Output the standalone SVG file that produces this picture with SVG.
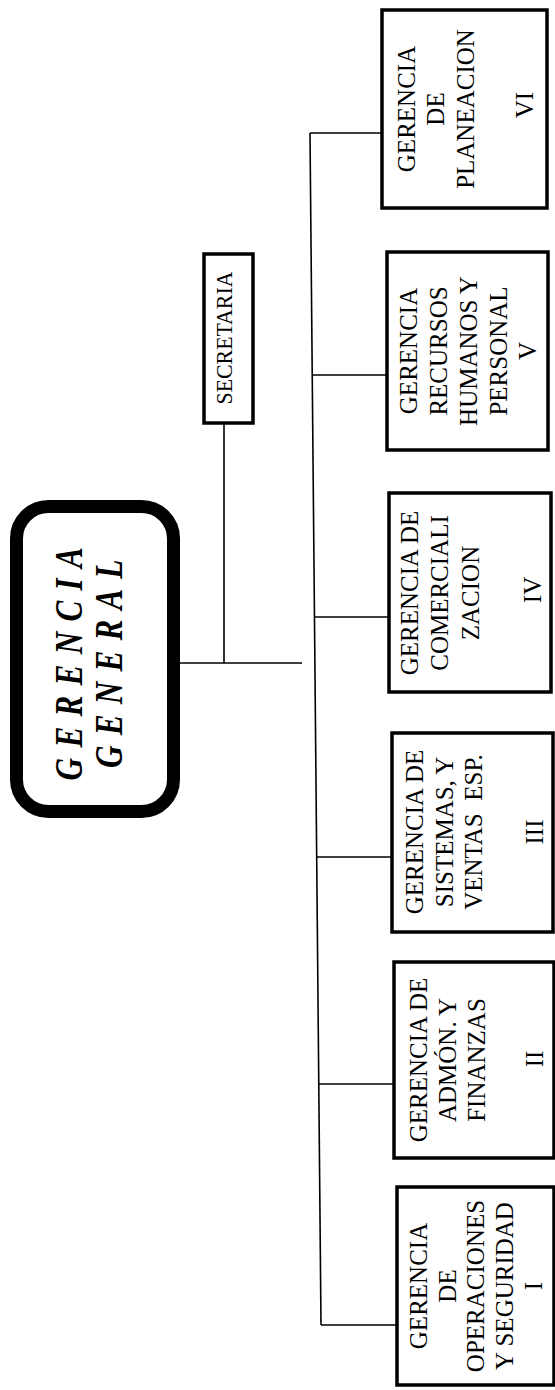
<svg xmlns="http://www.w3.org/2000/svg" width="555" height="1390" viewBox="0 0 555 1390">
<style>
.box{fill:#fff;stroke:#000;stroke-width:3.5}
.gg{fill:#fff;stroke:#000;stroke-width:13}
.ln{stroke:#000;stroke-width:1.6;fill:none}
.t{font-family:"Liberation Serif","Times New Roman",serif;font-size:25px;fill:#000;text-anchor:middle}
.sec{font-family:"Liberation Serif","Times New Roman",serif;font-size:23px;fill:#000;text-anchor:middle}
.big{font-family:"Liberation Serif","Times New Roman",serif;font-size:40px;font-weight:bold;font-style:italic;fill:#000;text-anchor:middle}
</style>
<rect width="555" height="1390" fill="#fff"/>
<g id="connectors">
<line class="ln" x1="180" y1="663" x2="302" y2="663"/>
<line class="ln" x1="224" y1="423" x2="224" y2="663"/>
<line class="ln" x1="310" y1="133" x2="321" y2="1325"/>
<line class="ln" x1="310" y1="133" x2="382" y2="133"/>
<line class="ln" x1="312" y1="375" x2="387" y2="375"/>
<line class="ln" x1="314.5" y1="617" x2="389" y2="617"/>
<line class="ln" x1="316.7" y1="857" x2="392" y2="857"/>
<line class="ln" x1="318.8" y1="1084" x2="394" y2="1084"/>
<line class="ln" x1="321" y1="1325" x2="397" y2="1325"/>
</g>
<g id="gerencia-general">
<rect class="gg" x="16.5" y="506.5" width="157" height="305" rx="32"/>
<text class="big" transform="rotate(-90) scale(0.78,1)" x="-851" y="82" textLength="299" lengthAdjust="spacing">GERENCIA</text>
<text class="big" transform="rotate(-90) scale(0.78,1)" x="-851" y="122" textLength="267" lengthAdjust="spacing">GENERAL</text>
</g>
<g id="secretaria">
<rect class="box" x="204" y="254" width="49" height="169"/>
<text class="sec" transform="rotate(-90)" x="-338" y="232" textLength="133" lengthAdjust="spacingAndGlyphs">SECRETARIA</text>
</g>
<g id="g6">
<rect class="box" x="382" y="10" width="165" height="198"/>
<text class="t" transform="rotate(-90)"><tspan x="-109" y="415">GERENCIA</tspan><tspan x="-109" y="444">DE</tspan><tspan x="-109" y="474">PLANEACION</tspan><tspan x="-105" y="533">VI</tspan></text>
</g>
<g id="g5">
<rect class="box" x="387" y="252" width="161" height="198"/>
<text class="t" transform="rotate(-90)"><tspan x="-351" y="417">GERENCIA</tspan><tspan x="-351" y="447">RECURSOS</tspan><tspan x="-351" y="477">HUMANOS Y</tspan><tspan x="-351" y="507">PERSONAL</tspan><tspan x="-351" y="536">V</tspan></text>
</g>
<g id="g4">
<rect class="box" x="389" y="493" width="162" height="199"/>
<text class="t" transform="rotate(-90)"><tspan x="-593" y="418">GERENCIA DE</tspan><tspan x="-593" y="448">COMERCIALI</tspan><tspan x="-593" y="479">ZACION</tspan><tspan x="-590" y="541">IV</tspan></text>
</g>
<g id="g3">
<rect class="box" x="392" y="733" width="161" height="199"/>
<text class="t" transform="rotate(-90)"><tspan x="-832" y="423">GERENCIA DE</tspan><tspan x="-832" y="453">SISTEMAS, Y</tspan><tspan x="-832" y="482" xml:space="preserve">VENTAS  ESP.</tspan><tspan x="-832" y="543">III</tspan></text>
</g>
<g id="g2">
<rect class="box" x="394" y="962" width="160" height="196"/>
<text class="t" transform="rotate(-90)"><tspan x="-1060" y="427">GERENCIA DE</tspan><tspan x="-1060" y="456">ADMÓN. Y</tspan><tspan x="-1060" y="485">FINANZAS</tspan><tspan x="-1059" y="543">II</tspan></text>
</g>
<g id="g1">
<rect class="box" x="397" y="1187" width="157" height="198"/>
<text class="t" transform="rotate(-90)"><tspan x="-1286" y="427">GERENCIA</tspan><tspan x="-1286" y="456">DE</tspan><tspan x="-1286" y="484">OPERACIONES</tspan><tspan x="-1286" y="513">Y SEGURIDAD</tspan><tspan x="-1286" y="542">I</tspan></text>
</g>
</svg>
